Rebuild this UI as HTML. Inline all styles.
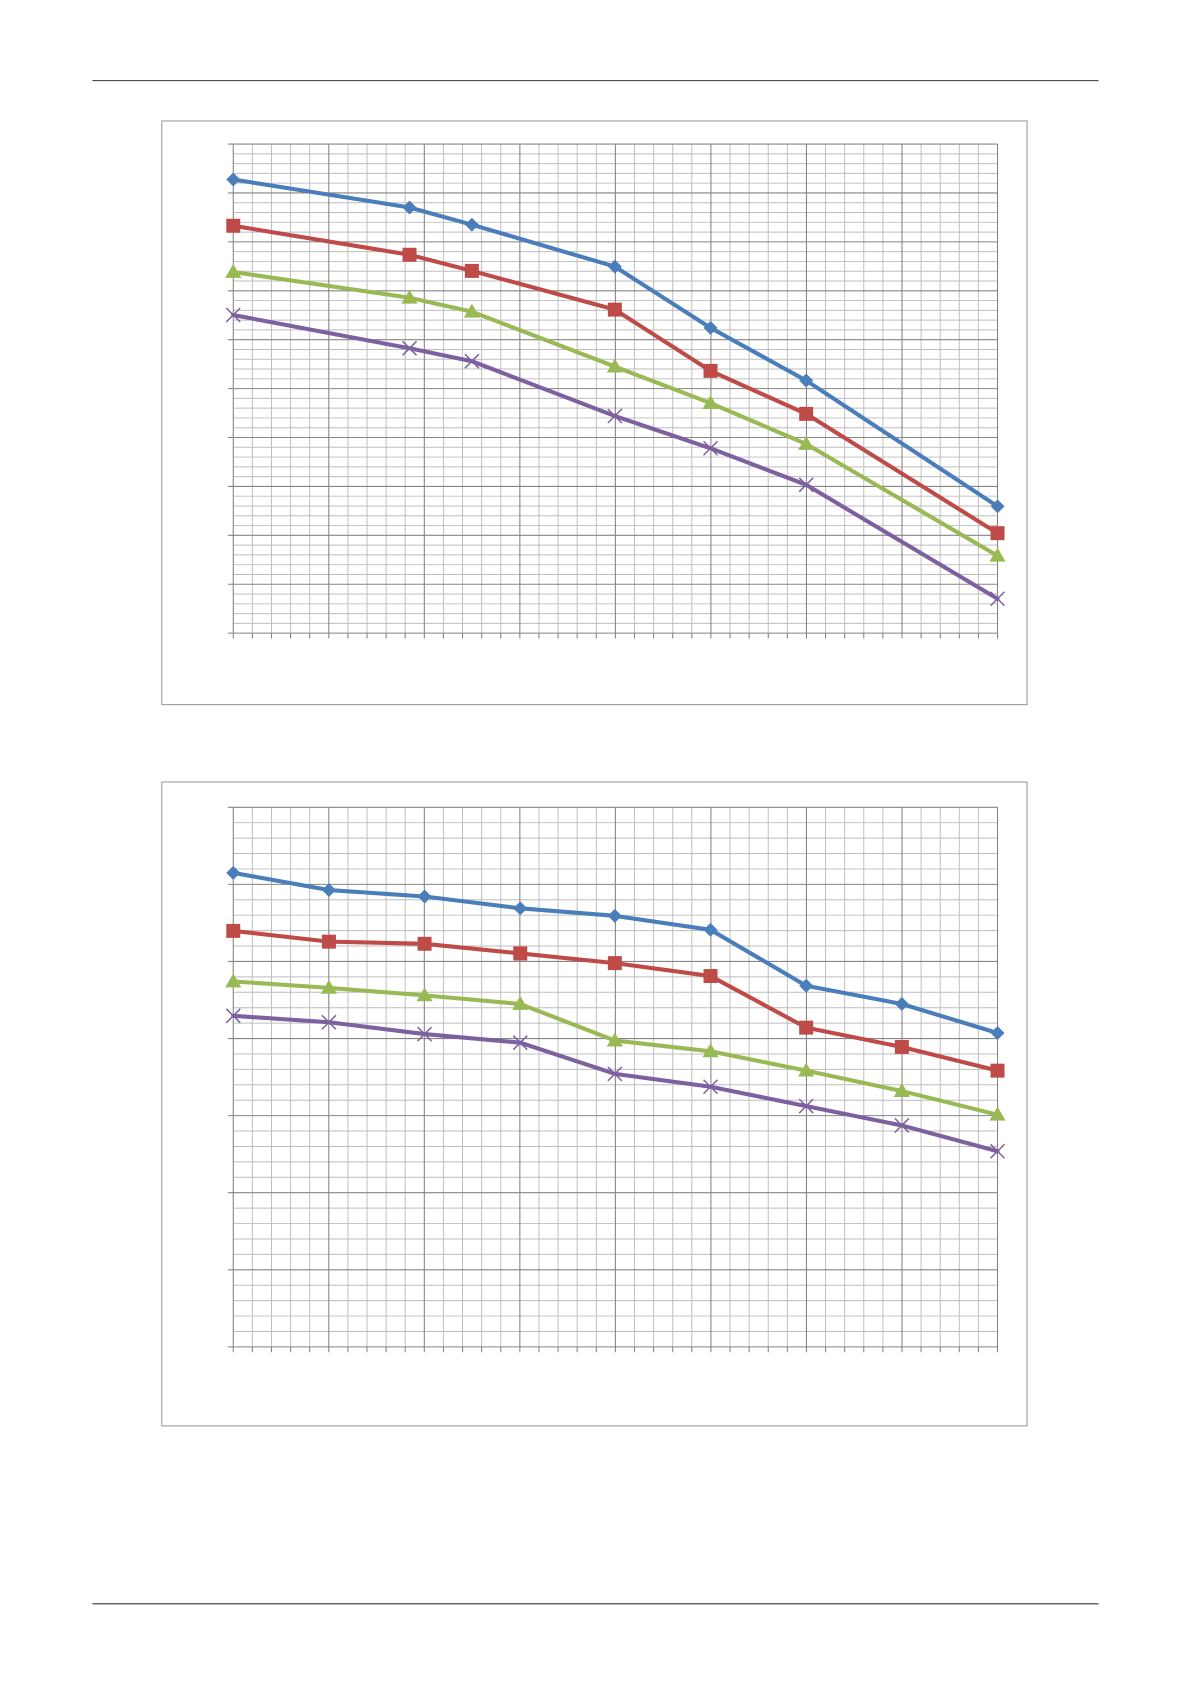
<!DOCTYPE html>
<html><head><meta charset="utf-8"><style>html,body{margin:0;padding:0;background:#fff}svg{display:block}</style></head>
<body>
<svg id="s" width="1191" height="1684" viewBox="0 0 1108 1566.6" xmlns="http://www.w3.org/2000/svg">
<rect width="1108" height="1566.6" fill="#fff"/>
<line x1="86" y1="75" x2="1022" y2="75" stroke="#333" stroke-width="1"/>
<line x1="86" y1="1492" x2="1022" y2="1492" stroke="#333" stroke-width="1"/>
<rect x="150.5" y="112.5" width="805" height="543" fill="#fff" stroke="#9a9a9a" stroke-width="1"/>
<rect x="150.5" y="727.5" width="805" height="599" fill="#fff" stroke="#9a9a9a" stroke-width="1"/>
<g id="g"></g>
</svg>
<script>
var NS="http://www.w3.org/2000/svg",g=document.getElementById('g');
function el(t,a){var e=document.createElementNS(NS,t);for(var k in a)e.setAttribute(k,a[k]);g.appendChild(e);return e;}
function grid(top,bot,nMaj){
 var L=217,R=928,dx=(R-L)/40,dy=(bot-top)/(nMaj*5);
 for(var i=0;i<=40;i++){var x=L+i*dx;if(i%5)el('line',{x1:x,y1:top,x2:x,y2:bot,stroke:'#bdbdbd','stroke-width':0.9});}
 for(var j=0;j<=nMaj*5;j++){var y=top+j*dy;if(j%5)el('line',{x1:L,y1:y,x2:R,y2:y,stroke:'#bdbdbd','stroke-width':0.9});}
 for(var i=0;i<=40;i+=5){var x=L+i*dx;el('line',{x1:x,y1:top,x2:x,y2:bot,stroke:'#858585','stroke-width':1});}
 for(var j=0;j<=nMaj*5;j+=5){var y=top+j*dy;el('line',{x1:L-5,y1:y,x2:R,y2:y,stroke:'#858585','stroke-width':1});}
 for(var i=0;i<=40;i++){var x=L+i*dx;el('line',{x1:x,y1:bot,x2:x,y2:bot+5,stroke:'#858585','stroke-width':1});}
}
grid(134,589,10);
grid(751,1253,7);
var C=['#4a7ebb','#be4b48','#98b954','#7d60a0'];
function series(xs,ys,k){
 var p=xs.map(function(x,i){return x+','+ys[i]}).join(' ');
 el('polyline',{points:p,fill:'none',stroke:C[k],'stroke-width':3.8,'stroke-linejoin':'round','stroke-linecap':'round'});
 xs.forEach(function(x,i){var y=ys[i];
  if(k==0)el('polygon',{points:(x)+','+(y-6.5)+' '+(x+6.5)+','+y+' '+x+','+(y+6.5)+' '+(x-6.5)+','+y,fill:C[0]});
  else if(k==1)el('rect',{x:x-6.5,y:y-6.5,width:13,height:13,fill:C[1]});
  else if(k==2)el('polygon',{points:x+','+(y-7.5)+' '+(x+7.5)+','+(y+5.5)+' '+(x-7.5)+','+(y+5.5),fill:C[2]});
  else{el('path',{d:'M'+(x-6.5)+' '+(y-6.5)+'L'+(x+6.5)+' '+(y+6.5)+'M'+(x+6.5)+' '+(y-6.5)+'L'+(x-6.5)+' '+(y+6.5),stroke:C[3],'stroke-width':1.4});}
 });
}
var x1=[217,381,439,572,661,750,928];
series(x1,[167,193,209,248,305,354,471],0);
series(x1,[210,237,252,288,345,385,496],1);
series(x1,[253,277,290,341,375,413,517],2);
series(x1,[293,324,336,387,417,451,557],3);
var x2=[217,306,395,484,572,661,750,839,928];
series(x2,[812,828,834,845,852,865,917,934,961],0);
series(x2,[866,876,878,887,896,908,956,974,996],1);
series(x2,[913,919,926,934,968,978,996,1015,1037],2);
series(x2,[945,951,962,970,999,1011,1029,1047,1071],3);
</script>
</body></html>
